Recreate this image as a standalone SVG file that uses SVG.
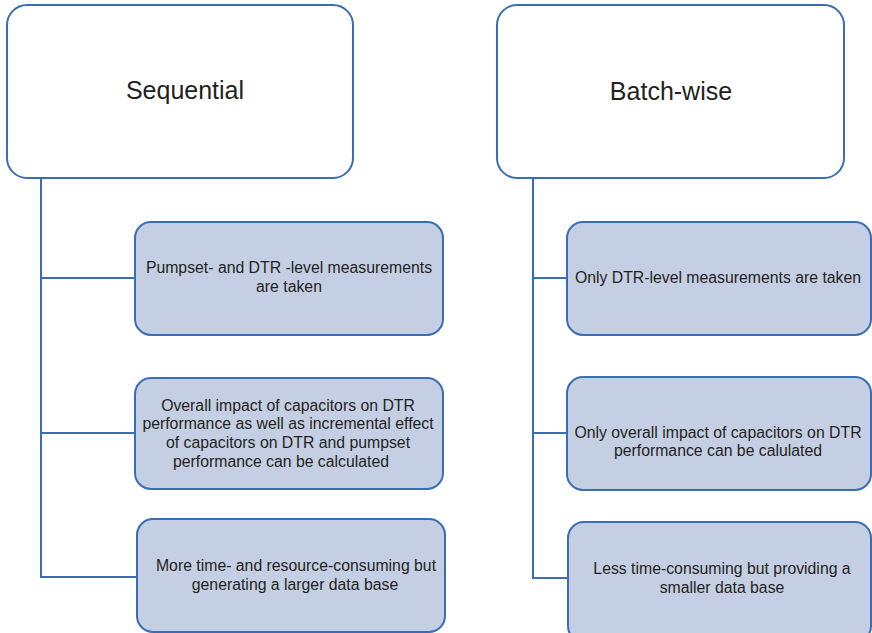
<svg xmlns="http://www.w3.org/2000/svg" width="872" height="633" viewBox="0 0 872 633">
  <style>
    .head { fill: #ffffff; stroke: #3b6db4; stroke-width: 2; }
    .item { fill: #c5cfe3; stroke: #3b6db4; stroke-width: 2; }
    .wire { fill: none; stroke: #3b6db4; stroke-width: 2; }
    text { font-family: "Liberation Sans", Arial, sans-serif; fill: #231f20; text-anchor: middle; }
    .title { font-size: 25px; }
    .body { font-size: 15.8px; }
  </style>

  <rect width="872" height="633" fill="#ffffff"/>

  <!-- connectors -->
  <g id="connectors">
    <polyline class="wire" points="41,178 41,577 137,577"/>
    <line class="wire" x1="41" y1="278" x2="135" y2="278"/>
    <line class="wire" x1="41" y1="433" x2="135" y2="433"/>
    <polyline class="wire" points="533,178 533,578 568,578"/>
    <line class="wire" x1="533" y1="278" x2="567" y2="278"/>
    <line class="wire" x1="533" y1="433" x2="567" y2="433"/>
  </g>

  <!-- sequential column -->
  <g id="sequential">
    <rect class="head" x="7" y="5" width="346" height="173" rx="20"/>
    <text class="title" x="185" y="99">Sequential</text>
  </g>
  <g id="seq-measurements">
    <rect class="item" x="135" y="222" width="308" height="113" rx="16"/>
    <text class="body" x="289" y="273">Pumpset- and DTR -level measurements</text>
    <text class="body" x="289" y="292">are taken</text>
  </g>
  <g id="seq-impact">
    <rect class="item" x="135" y="378" width="308" height="111" rx="16"/>
    <text class="body" x="288" y="411">Overall impact of capacitors on DTR</text>
    <text class="body" x="288" y="429">performance as well as incremental effect</text>
    <text class="body" x="288" y="448">of capacitors on DTR and pumpset</text>
    <text class="body" x="281" y="467">performance can be calculated</text>
  </g>
  <g id="seq-cost">
    <rect class="item" x="137" y="519" width="308" height="113" rx="16"/>
    <text class="body" x="296" y="571">More time- and resource-consuming but</text>
    <text class="body" x="295" y="590">generating a larger data base</text>
  </g>

  <!-- batch-wise column -->
  <g id="batch-wise">
    <rect class="head" x="497" y="5" width="347" height="173" rx="20"/>
    <text class="title" x="671" y="100">Batch-wise</text>
  </g>
  <g id="batch-measurements">
    <rect class="item" x="567" y="222" width="304" height="113" rx="16"/>
    <text class="body" x="718" y="283">Only DTR-level measurements are taken</text>
  </g>
  <g id="batch-impact">
    <rect class="item" x="567" y="377" width="304" height="113" rx="16"/>
    <text class="body" x="718" y="438">Only overall impact of capacitors on DTR</text>
    <text class="body" x="718" y="456">performance can be calulated</text>
  </g>
  <g id="batch-cost">
    <rect class="item" x="568" y="522" width="303" height="120" rx="16"/>
    <text class="body" x="722" y="574">Less time-consuming but providing a</text>
    <text class="body" x="722" y="593">smaller data base</text>
  </g>
</svg>
